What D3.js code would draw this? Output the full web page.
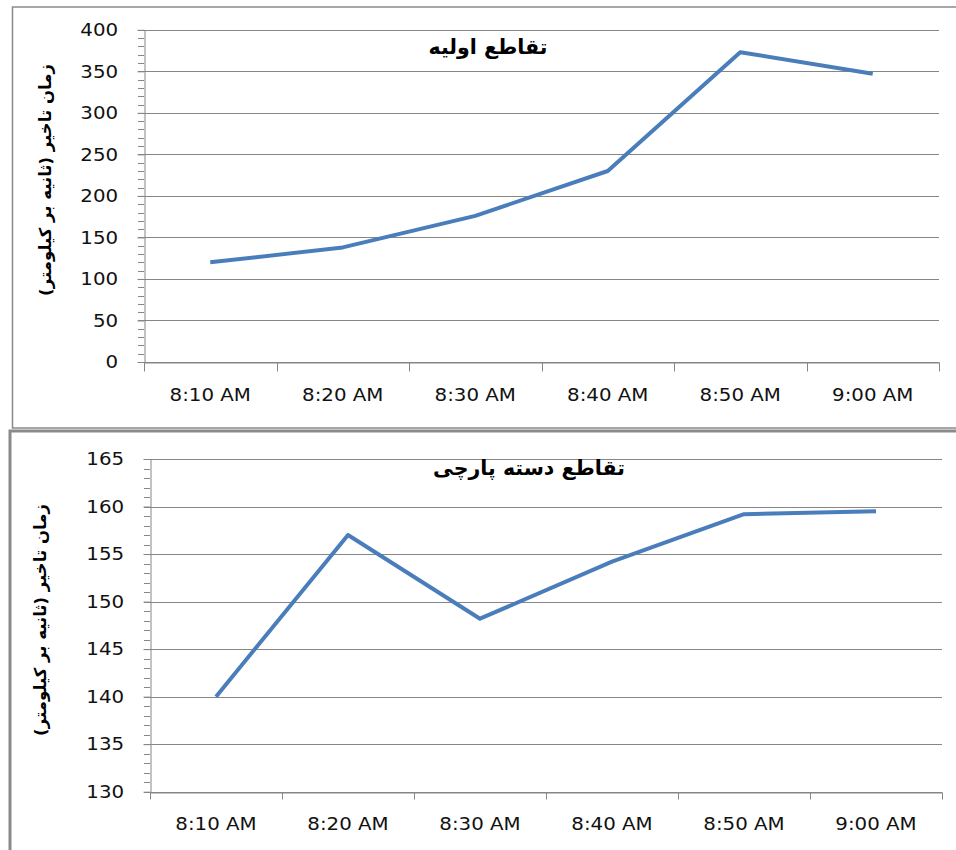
<!DOCTYPE html>
<html>
<head>
<meta charset="utf-8">
<script src="https://cdn.jsdelivr.net/npm/d3@7"></script>
<style>
  html, body { margin: 0; padding: 0; background: #fff; }
  svg { display: block; }
</style>
</head>
<body>
<svg id="chart" width="956" height="850"></svg>
<script>
// Time slots shared by both panels
const timeLabels = ["8:10 AM", "8:20 AM", "8:30 AM", "8:40 AM", "8:50 AM", "9:00 AM"];

// Delay (s/km) at the original intersection
const initialDelay = [120, 138, 176, 230, 373, 347];
const initialTicks = [0, 50, 100, 150, 200, 250, 300, 350, 400];

// Delay (s/km) at the staggered intersection
const staggeredDelay = [140, 157, 148.2, 154.2, 159.2, 159.5];
const staggeredTicks = [130, 135, 140, 145, 150, 155, 160, 165];

const panelTitles = ["تقاطع اولیه", "تقاطع دسته پارچی"];
const yAxisTitle = "زمان تاخیر (ثانیه بر کیلومتر)";

const svg = d3.select("#chart");
const GRID = "#868686";
const LINE = "#4a7ebb";
const LABEL_FONT = "DejaVu Sans, sans-serif";
const ARABIC_FONT = "DejaVu Sans, sans-serif";

function drawPanel(opts) {
  const g = svg.append("g");

  // panel frame
  g.append("rect")
    .attr("x", opts.frame.x).attr("y", opts.frame.y)
    .attr("width", opts.frame.w).attr("height", opts.frame.h)
    .attr("fill", "none")
    .attr("stroke", "#8a8a8a")
    .attr("stroke-width", opts.frame.sw);

  const x = d3.scaleBand().domain(timeLabels).range([opts.left, opts.right]).padding(0);
  const y = d3.scaleLinear().domain([opts.ticks[0], opts.ticks[opts.ticks.length - 1]])
    .range([opts.bottom, opts.top]);

  // horizontal gridlines at the major ticks
  g.append("g").selectAll("line")
    .data(opts.ticks)
    .join("line")
    .attr("x1", opts.left).attr("x2", opts.right)
    .attr("y1", d => Math.round(y(d)) + 0.5).attr("y2", d => Math.round(y(d)) + 0.5)
    .attr("stroke", GRID).attr("stroke-width", 1);

  // minor ticks on the value axis
  const step = opts.ticks[1] - opts.ticks[0];
  const minor = d3.range(opts.ticks[0], opts.ticks[opts.ticks.length - 1] + 1e-9, step / 5);
  g.append("g").selectAll("line")
    .data(minor)
    .join("line")
    .attr("x1", opts.left - 6).attr("x2", opts.left)
    .attr("y1", d => Math.round(y(d)) + 0.5).attr("y2", d => Math.round(y(d)) + 0.5)
    .attr("stroke", GRID).attr("stroke-width", 1);

  // value axis
  const yAxis = g.append("g")
    .attr("transform", `translate(${opts.left + 0.5},0)`)
    .call(d3.axisLeft(y).tickValues(opts.ticks).tickSize(7).tickPadding(17).tickSizeOuter(0));
  yAxis.select(".domain").attr("stroke", GRID);
  yAxis.selectAll(".tick line").attr("stroke", GRID);
  yAxis.selectAll(".tick text")
    .attr("font-family", LABEL_FONT).attr("font-size", 18).attr("fill", "#111")
    .attr("transform", "scale(1.1,1)");

  // category axis: labels at band centres, ticks at band edges
  const xAxis = g.append("g")
    .attr("transform", `translate(0,${Math.round(opts.bottom) + 0.5})`)
    .call(d3.axisBottom(x).tickSize(0).tickPadding(opts.labelPad).tickSizeOuter(0));
  xAxis.select(".domain").attr("stroke", GRID);
  xAxis.selectAll(".tick text")
    .attr("font-family", LABEL_FONT).attr("font-size", 18).attr("fill", "#111")
    .attr("transform", "scale(1.1,1)");
  const edges = timeLabels.map(d => x(d)).concat([x(timeLabels[timeLabels.length - 1]) + x.bandwidth()]);
  xAxis.append("g").selectAll("line")
    .data(edges)
    .join("line")
    .attr("x1", d => Math.round(d) + 0.5).attr("x2", d => Math.round(d) + 0.5)
    .attr("y1", 0).attr("y2", opts.tickLen)
    .attr("stroke", GRID).attr("stroke-width", 1);

  // data line
  const line = d3.line()
    .x((d, i) => x(timeLabels[i]) + x.bandwidth() / 2)
    .y(d => y(d));
  g.append("path")
    .datum(opts.values)
    .attr("d", line)
    .attr("fill", "none")
    .attr("stroke", LINE)
    .attr("stroke-width", 4)
    .attr("stroke-linejoin", "round");

  // panel title
  g.append("text")
    .attr("x", opts.titleX).attr("y", opts.titleY)
    .attr("text-anchor", "middle")
    .attr("direction", "rtl")
    .attr("font-family", ARABIC_FONT).attr("font-weight", "bold").attr("font-size", 20.5)
    .attr("fill", "#000")
    .text(opts.title);

  // value axis title
  g.append("text")
    .attr("transform", `translate(${opts.yTitleX},${opts.yTitleY}) rotate(-90)`)
    .attr("text-anchor", "middle")
    .attr("direction", "rtl")
    .attr("font-family", ARABIC_FONT).attr("font-weight", "bold").attr("font-size", 16.5)
    .attr("fill", "#000")
    .text(yAxisTitle);
}

drawPanel({
  frame: { x: 12.5, y: 7, w: 960, h: 421, sw: 1.5 },
  left: 144, right: 939, top: 29.8, bottom: 362,
  ticks: initialTicks, values: initialDelay,
  labelPad: 26, tickLen: 9,
  title: panelTitles[0], titleX: 488, titleY: 54,
  yTitleX: 51, yTitleY: 180
});

drawPanel({
  frame: { x: 10, y: 431, w: 960, h: 440, sw: 3 },
  left: 150, right: 942, top: 459, bottom: 791.7,
  ticks: staggeredTicks, values: staggeredDelay,
  labelPad: 25, tickLen: 7,
  title: panelTitles[1], titleX: 529, titleY: 475,
  yTitleX: 46, yTitleY: 620
});
</script>
</body>
</html>
